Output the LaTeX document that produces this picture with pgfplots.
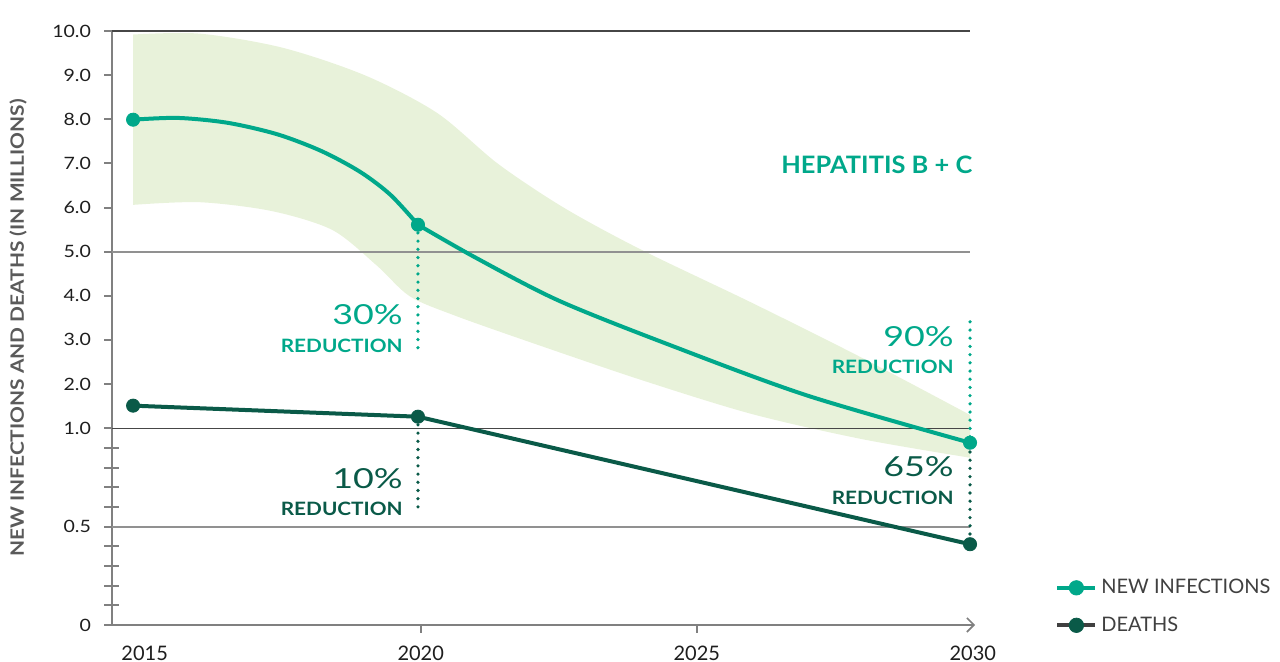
\documentclass[border=0pt]{standalone}
\usepackage{graphicx}
\usepackage{pgfplots}
\pgfplotsset{compat=1.18}
\usepgfplotslibrary{fillbetween}
\usetikzlibrary{arrows.meta}
\usepackage{fontspec}
\setmainfont{Lato}
\definecolor{teal1}{RGB}{0,168,138}
\definecolor{dkgreen}{RGB}{10,90,72}
\definecolor{bandc}{RGB}{232,242,218}
\definecolor{axgray}{RGB}{128,128,128}
\definecolor{griddark}{RGB}{70,70,70}
\definecolor{gridlight}{RGB}{145,145,145}
\definecolor{txt}{RGB}{30,30,30}
\definecolor{lblgray}{RGB}{90,90,90}
\definecolor{leggray}{RGB}{64,64,64}
\newcommand\hs[2]{\scalebox{#1}[1]{#2}}
\newcommand\yt[1]{\scalebox{1.15}[1]{#1}}
\tikzset{dotline/.style={line width=1.8pt, dash pattern=on 0pt off 4.1pt, line cap=round},
  pctlbl/.style={anchor=base east, font=\fontsize{13.8}{16}\selectfont, inner sep=0pt},
  redlbl/.style={anchor=base east, font=\bfseries\fontsize{9.2}{11}\selectfont, inner sep=0pt}}
% Vertical positions are on the chart's broken scale:
% below 1.0 a value v sits at 4.46*v; from 1.0 up it sits at v+3.46.
\begin{document}
\begin{tikzpicture}
\begin{axis}[
  at={(0,0)}, anchor=south west,
  scale only axis, width=431.5pt, height=297pt,
  xmin=2014.408, xmax=2030.04, ymin=0, ymax=13.46,
  axis x line*=bottom, axis y line*=left,
  x axis line style={axgray, line width=1pt, -{Straight Barb[length=3.5pt,width=7pt,line width=0.8pt]}},
  y axis line style={axgray, line width=1pt},
  tick align=outside, major tick length=4pt, minor tick length=7.5pt,
  tick style={axgray, line width=1pt},
  minor y tick style={xshift=3.5pt},
  ytick={0,2.23,4.46,5.46,6.46,7.46,8.46,9.46,10.46,11.46,12.46,13.46},
  yticklabels={\yt{0},\yt{0.5},\yt{1.0},\yt{2.0},\yt{3.0},\yt{4.0},\yt{5.0},\yt{6.0},\yt{7.0},\yt{8.0},\yt{9.0},\yt{10.0}},
  minor ytick={0.446,0.892,1.338,1.784,2.676,3.122,3.568,4.014},
  xtick={2020,2025}, xticklabels={2020,2025},
  extra x ticks={2015,2030}, extra x tick labels={2015,2030},
  extra x tick style={tick style={draw=none}},
  yticklabel style={font=\fontsize{8.5}{10}\selectfont, text=txt, xshift=-3pt},
  xticklabel style={font=\fontsize{10}{12}\selectfont, text=txt, yshift=-3pt},
  /pgf/number format/assume math mode=true,
  ylabel={\hs{1.135}{NEW INFECTIONS AND DEATHS (IN MILLIONS)}},
  ylabel style={at={(axis description cs:-0.1089,0.5)}, anchor=center, font=\bfseries\fontsize{9.2}{11}\selectfont, text=lblgray},
  clip=false,
  legend style={draw=none, fill=none, at={(axis description cs:1.0927,0.031)}, anchor=west, inner sep=0pt, row sep=6pt, font=\fontsize{10}{12}\selectfont, text=leggray},
  legend cell align=left,
]
% uncertainty band
\addplot[name path=up, draw=none, smooth, forget plot] coordinates {
(2014.79,13.38) (2016.0,13.40) (2017.5,13.08) (2019.0,12.45) (2020.3,11.60) (2021.4,10.45)
(2022.6,9.45) (2024.0,8.50) (2026.0,7.30) (2028.0,6.05) (2029.95,4.76)};
\addplot[name path=lo, draw=none, smooth, forget plot] coordinates {
(2014.79,9.52) (2016.0,9.58) (2017.3,9.38) (2018.4,8.95) (2019.2,8.15) (2019.8,7.45)
(2020.6,7.02) (2022.0,6.40) (2024.0,5.55) (2026.0,4.78) (2028.0,4.21) (2029.95,3.79)};
\addplot[bandc, forget plot] fill between[of=up and lo];
% grid lines
\draw[griddark, line width=0.6pt] (axis cs:2014.408,13.46) -- (axis cs:2029.95,13.46);
\draw[gridlight, line width=1pt] (axis cs:2014.408,8.46) -- (axis cs:2029.95,8.46);
\draw[griddark, line width=0.6pt] (axis cs:2014.408,4.46) -- (axis cs:2029.95,4.46);
\draw[gridlight, line width=1pt] (axis cs:2014.408,2.23) -- (axis cs:2029.95,2.23);
% dotted drop lines
\addplot[teal1, dotline, forget plot] coordinates {(2019.95,9.07) (2019.95,6.19)};
\addplot[dkgreen, dotline, forget plot] coordinates {(2019.95,4.72) (2019.95,2.54)};
\addplot[teal1, dotline, forget plot] coordinates {(2029.95,6.87) (2029.95,4.13)};
\addplot[dkgreen, dotline, forget plot] coordinates {(2029.95,3.92) (2029.95,1.83)};
% new infections (8.0 -> 5.6 -> 0.93 million)
\addplot[teal1, line width=2pt, smooth, forget plot] coordinates {
(2014.79,11.45) (2015.6,11.49) (2016.5,11.38) (2017.4,11.12) (2018.2,10.74) (2018.9,10.27)
(2019.45,9.75) (2019.95,9.07)};
\addplot[teal1, line width=2pt, smooth, forget plot] coordinates {
(2019.95,9.07) (2021.0,8.32) (2022.5,7.35) (2024.5,6.35) (2027.0,5.20) (2029.95,4.13)};
\addplot[only marks, mark=*, mark size=3.3pt, teal1, forget plot] coordinates {
(2014.79,11.45) (2019.95,9.07) (2029.95,4.13)};
% deaths (1.5 -> 1.26 -> 0.41 million)
\addplot[dkgreen, line width=2pt, forget plot] coordinates {
(2014.79,4.97) (2019.95,4.72) (2029.95,1.83)};
\addplot[only marks, mark=*, mark size=3.3pt, dkgreen, forget plot] coordinates {
(2014.79,4.97) (2019.95,4.72) (2029.95,1.83)};
% annotations
\node[pctlbl, text=teal1] at (axis cs:2019.68,6.80) {\hs{1.3}{30\%}};
\node[redlbl, text=teal1] at (axis cs:2019.68,6.17) {\hs{1.13}{REDUCTION}};
\node[pctlbl, text=dkgreen] at (axis cs:2019.68,3.10) {\hs{1.3}{10\%}};
\node[redlbl, text=dkgreen] at (axis cs:2019.68,2.49) {\hs{1.13}{REDUCTION}};
\node[pctlbl, text=teal1] at (axis cs:2029.66,6.31) {\hs{1.3}{90\%}};
\node[redlbl, text=teal1] at (axis cs:2029.66,5.707) {\hs{1.13}{REDUCTION}};
\node[pctlbl, text=dkgreen] at (axis cs:2029.66,3.363) {\hs{1.3}{65\%}};
\node[redlbl, text=dkgreen] at (axis cs:2029.66,2.72) {\hs{1.13}{REDUCTION}};
\node[anchor=base east, text=teal1, font=\bfseries\fontsize{12}{14}\selectfont, inner sep=0pt] at (axis cs:2030.0,10.24) {\hs{1.06}{HEPATITIS B + C}};
% legend
\addlegendimage{legend image code/.code={\draw[teal1, line width=2pt] (0pt,0pt) -- (19pt,0pt); \fill[teal1] (9.5pt,0pt) circle (3.6pt);}}
\addlegendentry{NEW INFECTIONS}
\addlegendimage{legend image code/.code={\draw[leggray, line width=2pt] (0pt,0pt) -- (19pt,0pt); \fill[dkgreen] (9.5pt,0pt) circle (3.6pt);}}
\addlegendentry{DEATHS}
\end{axis}
\pgfresetboundingbox
\useasboundingbox (-56pt,-18.5pt) rectangle (584pt,312.5pt);
\end{tikzpicture}
\end{document}
